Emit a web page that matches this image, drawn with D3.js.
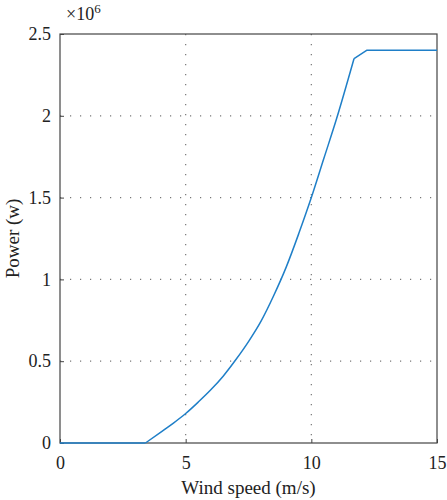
<!DOCTYPE html>
<html lang="en">
<head>
    <meta charset="UTF-8">
    <title>Power curve</title>
    <style>
        body { margin: 0; background: #ffffff; }
        svg text { font-family: 'Liberation Serif', 'DejaVu Serif', serif; fill: #222; }
    </style>
    <script src="https://d3js.org/d3.v7.min.js"></script>
</head>
<body>
<svg id="chart" width="447" height="500"></svg>
<script>
    // wind speed (m/s) and power (x10^6 W)
    const windSpeed = [0, 3.4, 4, 4.5, 5, 5.5, 6, 6.5, 7, 7.5, 8, 8.5, 9, 9.5, 10, 10.5, 11, 11.7, 12.2, 15];
    const power = [0, 0, 0.065, 0.12, 0.18, 0.25, 0.325, 0.41, 0.51, 0.62, 0.745, 0.9, 1.075, 1.28, 1.5, 1.74, 1.98, 2.35, 2.40, 2.40];
    const xTicks = [0, 5, 10, 15];
    const yTicks = [0, 0.5, 1, 1.5, 2, 2.5];
    const xGrid = [5, 10];
    const yGrid = [0.5, 1, 1.5, 2];

    const svg = d3.select("#chart");
    const margin = {left: 60, right: 10, top: 34, bottom: 57};
    const width = 447 - margin.left - margin.right,
        height = 500 - margin.top - margin.bottom;

    const x = d3.scaleLinear().domain([0, 15]).range([0, width]);
    const y = d3.scaleLinear().domain([0, 2.5]).range([height, 0]);

    const g = svg.append("g").attr("transform", `translate(${margin.left},${margin.top})`);

    // dotted grid
    g.append("g").selectAll("line").data(xGrid).enter().append("line")
        .attr("x1", d => x(d)).attr("x2", d => x(d))
        .attr("y1", 0).attr("y2", height)
        .attr("stroke", "#777").attr("stroke-width", 1.2)
        .attr("stroke-dasharray", "1.2,8.8");
    g.append("g").selectAll("line").data(yGrid).enter().append("line")
        .attr("y1", d => y(d)).attr("y2", d => y(d))
        .attr("x1", 0).attr("x2", width)
        .attr("stroke", "#777").attr("stroke-width", 1.2)
        .attr("stroke-dasharray", "1.2,8.8");

    // axes (ticks inside, matlab style)
    const xAxis = g.append("g").attr("transform", `translate(0,${height})`)
        .call(d3.axisBottom(x).tickValues(xTicks).tickSize(-4).tickPadding(13).tickFormat(d3.format("d")));
    const yAxis = g.append("g")
        .call(d3.axisLeft(y).tickValues(yTicks).tickSize(-4).tickPadding(9).tickFormat(d => d));
    [xAxis, yAxis].forEach(a => {
        a.attr("font-family", null).attr("font-size", null);
        a.select(".domain").remove();
        a.selectAll(".tick line").attr("stroke", "#444");
        a.selectAll("text").attr("font-size", 18).attr("fill", "#222");
    });

    // frame
    g.append("rect").attr("width", width).attr("height", height)
        .attr("fill", "none").attr("stroke", "#444").attr("stroke-width", 1.2);

    // power curve: smooth between cut-in and rated, straight elsewhere
    const pts = d3.zip(windSpeed, power);
    const iIn = windSpeed.indexOf(3.4), iRated = windSpeed.indexOf(11.7);
    const smooth = d3.line().x(d => x(d[0])).y(d => y(d[1])).curve(d3.curveMonotoneX);
    const straight = d3.line().x(d => x(d[0])).y(d => y(d[1]));
    [
        [smooth, pts.slice(iIn, iRated + 1)],
        [straight, pts.slice(0, iIn + 1)],
        [straight, pts.slice(iRated)]
    ].forEach(([gen, data]) => {
        g.append("path").datum(data).attr("d", gen)
            .attr("fill", "none").attr("stroke", "#1f7fc8").attr("stroke-width", 1.5)
            .attr("stroke-linejoin", "round");
    });

    // labels
    g.append("text").attr("x", width / 2).attr("y", height + 51)
        .attr("text-anchor", "middle").attr("font-size", 19).text("Wind speed (m/s)");
    svg.append("text").attr("transform", `translate(19,${margin.top + height / 2}) rotate(-90)`)
        .attr("text-anchor", "middle").attr("font-size", 19).text("Power (w)");
    const exp = svg.append("text").attr("x", 66).attr("y", 20).attr("font-size", 18);
    exp.append("tspan").text("×10");
    exp.append("tspan").attr("dy", -7).attr("font-size", 13).text("6");
</script>
</body>
</html>
